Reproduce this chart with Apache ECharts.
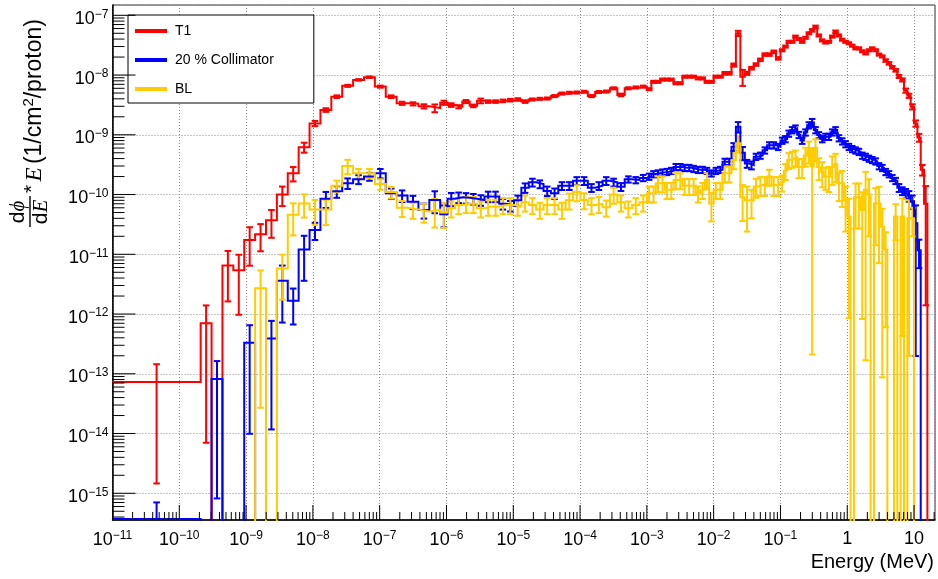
<!DOCTYPE html>
<html>
<head>
<meta charset="utf-8">
<script src="https://cdn.jsdelivr.net/npm/echarts@6/dist/echarts.min.js"></script>
<style>
html, body { margin: 0; padding: 0; background: #fff; }
#chart { width: 938px; height: 579px; }
</style>
</head>
<body>
<div id="chart"></div>
<script>
// Energy bin edges, log10(E / MeV)
const binEdgesLog = [
  -11, -9.68, -9.517, -9.354, -9.191, -9.028, -8.865, -8.702, -8.539, -8.376, -8.213, -8.05,
  -7.887, -7.724, -7.561, -7.398, -7.235, -7.072, -6.909, -6.746, -6.583, -6.42, -6.257, -6.094,
  -5.984, -5.873, -5.763, -5.652, -5.542, -5.431, -5.321, -5.21, -5.1, -4.989, -4.879, -4.768,
  -4.658, -4.547, -4.437, -4.326, -4.216, -4.105, -3.995, -3.884, -3.774, -3.663, -3.553, -3.442,
  -3.332, -3.221, -3.111, -3.0,
  -2.933, -2.867, -2.8, -2.733, -2.667, -2.6, -2.533, -2.467, -2.4, -2.333, -2.267, -2.2,
  -2.133, -2.067, -2.0, -1.933, -1.867, -1.8, -1.733, -1.667, -1.6, -1.533, -1.467, -1.4,
  -1.333, -1.267, -1.2, -1.133, -1.067, -1.0,
  -0.95, -0.9, -0.85, -0.8, -0.75, -0.7, -0.65, -0.6, -0.55, -0.5, -0.45, -0.4, -0.35, -0.3,
  -0.25, -0.2, -0.15, -0.1, -0.05, 0, 0.05, 0.1, 0.15, 0.2, 0.25, 0.3, 0.35, 0.4, 0.45, 0.5,
  0.55, 0.6, 0.65, 0.7, 0.75, 0.8, 0.85, 0.9, 0.95, 1, 1.05, 1.1, 1.15, 1.2, 1.25, 1.3
];

// E * dphi/dE per bin (1/cm^2/proton)
const t1Values = [
  7.3e-14,
  7.0e-13, 0, 6.5e-12, 5.4e-12, 1.74e-11, 2.16e-11, 3.7e-11, 1.0e-10, 2.27e-10, 6.2e-10, 1.55e-9,
  2.6e-9, 4.35e-9, 6.6e-9, 8.3e-9, 9.2e-9, 6.4e-9, 4.35e-9, 3.37e-9, 3.3e-9, 3.0e-9, 2.8e-9,
  3.45e-9, 3.15e-9, 2.95e-9, 3.6e-9, 3.05e-9, 3.7e-9, 3.6e-9, 3.6e-9, 3.7e-9, 3.8e-9, 3.9e-9, 3.6e-9,
  3.9e-9, 4.0e-9, 4.05e-9, 4.45e-9, 4.9e-9, 5.05e-9, 5.1e-9, 5.25e-9, 4.45e-9, 5.2e-9, 5.3e-9, 6.0e-9,
  4.65e-9, 6.0e-9, 6.2e-9, 6.4e-9,
  5.8e-9, 7.7e-9, 7.7e-9, 8.4e-9, 8.4e-9, 8.4e-9, 7.3e-9, 7.3e-9, 9.4e-9, 9.4e-9, 9.4e-9, 8.8e-9,
  8.8e-9, 7.7e-9, 7.7e-9, 9.4e-9, 9.4e-9, 1.07e-8, 1.07e-8, 1.47e-8, 5.0e-8, 9.4e-9, 1.07e-8, 1.3e-8,
  1.5e-8, 1.8e-8, 2.2e-8, 2.2e-8, 2.45e-8, 1.9e-8,
  2.6e-8, 3.0e-8, 3.6e-8, 3.6e-8, 4.4e-8, 4.0e-8, 3.6e-8, 4.2e-8, 5.0e-8, 5.6e-8, 6.4e-8, 4.6e-8,
  3.8e-8, 3.5e-8, 3.6e-8, 4.4e-8, 5.3e-8, 4.6e-8, 3.9e-8, 3.6e-8, 3.4e-8, 3.1e-8, 2.8e-8, 2.8e-8,
  2.5e-8, 2.3e-8, 2.6e-8, 2.8e-8, 2.6e-8, 2.2e-8, 2.05e-8, 1.75e-8, 1.57e-8, 1.35e-8, 1.2e-8, 9.5e-9,
  8.3e-9, 5.5e-9, 4.5e-9, 2.95e-9, 1.55e-9, 9e-10, 2.6e-10, 7e-11, 0, 0
];
const t1RelErr = [
  0.98,
  0.99, 0, 0.75, 0.82, 0.63, 0.48, 0.49, 0.36, 0.27, 0.19, 0.1,
  0.07, 0.05, 0.04, 0.03, 0.03, 0.04, 0.05, 0.06, 0.06, 0.08, 0.15,
  0.08, 0.07, 0.06, 0.06, 0.05, 0.09, 0.05, 0.05, 0.05, 0.05, 0.05, 0.05,
  0.04, 0.04, 0.04, 0.04, 0.04, 0.04, 0.04, 0.04, 0.04, 0.04, 0.04, 0.04,
  0.05, 0.04, 0.04, 0.04,
  0.04, 0.04, 0.04, 0.04, 0.04, 0.04, 0.04, 0.04, 0.04, 0.04, 0.04, 0.04,
  0.04, 0.04, 0.04, 0.04, 0.04, 0.05, 0.05, 0.06, 0.1, 0.3, 0.06, 0.05,
  0.05, 0.05, 0.05, 0.05, 0.05, 0.05,
  0.04, 0.04, 0.04, 0.04, 0.04, 0.04, 0.04, 0.04, 0.04, 0.05, 0.05, 0.04,
  0.04, 0.04, 0.04, 0.04, 0.05, 0.04, 0.04, 0.04, 0.04, 0.04, 0.04, 0.04,
  0.04, 0.04, 0.04, 0.04, 0.04, 0.04, 0.04, 0.05, 0.05, 0.05, 0.05, 0.06,
  0.06, 0.08, 0.08, 0.1, 0.12, 0.15, 0.2, 0.98, 0, 0
];

const collimatorValues = [
  3.7e-16,
  0, 8.2e-14, 0, 0, 3.3e-13, 0, 3.9e-13, 3.6e-12, 1.67e-12, 1.2e-11, 2.55e-11,
  8.5e-11, 1.13e-10, 1.55e-10, 1.8e-10, 2.0e-10, 2.27e-10, 1.05e-10, 9.6e-11, 7.6e-11, 5.5e-11, 8.1e-11,
  4.7e-11, 8.5e-11, 9e-11, 8.8e-11, 8.5e-11, 8.1e-11, 9.3e-11, 9.3e-11, 7e-11, 6.5e-11, 8e-11, 1.3e-10,
  1.6e-10, 1.5e-10, 1.15e-10, 1.05e-10, 1.4e-10, 1.4e-10, 1.7e-10, 1.7e-10, 1.3e-10, 1.4e-10, 1.7e-10, 1.6e-10,
  1.35e-10, 1.8e-10, 1.75e-10, 1.9e-10,
  2.0e-10, 2.2e-10, 2.27e-10, 2.35e-10, 2.4e-10, 2.5e-10, 2.9e-10, 2.9e-10, 2.8e-10, 2.8e-10, 2.7e-10, 2.6e-10,
  2.6e-10, 2.5e-10, 2.27e-10, 2.5e-10, 2.6e-10, 3.55e-10, 3.55e-10, 6.3e-10, 1.36e-9, 5e-10, 3.3e-10, 3.1e-10,
  4.3e-10, 4.5e-10, 5.5e-10, 6.7e-10, 6.7e-10, 6.3e-10,
  8e-10, 8.5e-10, 1.05e-9, 1.2e-9, 1.28e-9, 1.0e-9, 8e-10, 1.1e-9, 1.45e-9, 1.6e-9, 1.2e-9, 9.9e-10,
  8.5e-10, 9.3e-10, 9.3e-10, 1.1e-9, 1.2e-9, 8.8e-10, 7.8e-10, 7e-10, 6.3e-10, 5.8e-10, 5.5e-10, 5.2e-10,
  4.5e-10, 4.3e-10, 4.0e-10, 3.8e-10, 3.6e-10, 3.0e-10, 2.8e-10, 2.4e-10, 2.2e-10, 1.9e-10, 1.7e-10, 1.3e-10,
  1.15e-10, 1.05e-10, 9.5e-11, 7.7e-11, 3.3e-11, 1.17e-11, 0, 0, 0, 0
];
const collimatorRelErr = [
  0.9,
  0, 0.99, 0, 0, 0.97, 0, 0.97, 0.8, 0.6, 0.7, 0.32,
  0.3, 0.22, 0.2, 0.17, 0.15, 0.18, 0.2, 0.22, 0.25, 0.28, 0.4,
  0.4, 0.25, 0.2, 0.2, 0.2, 0.2, 0.2, 0.2, 0.2, 0.2, 0.2, 0.18,
  0.15, 0.15, 0.18, 0.2, 0.15, 0.15, 0.15, 0.15, 0.15, 0.15, 0.15, 0.15,
  0.15, 0.12, 0.12, 0.12,
  0.12, 0.12, 0.12, 0.12, 0.12, 0.12, 0.12, 0.12, 0.12, 0.12, 0.12, 0.12,
  0.12, 0.12, 0.12, 0.12, 0.12, 0.12, 0.12, 0.15, 0.2, 0.25, 0.15, 0.15,
  0.12, 0.12, 0.12, 0.12, 0.12, 0.12,
  0.12, 0.12, 0.12, 0.12, 0.12, 0.12, 0.12, 0.12, 0.12, 0.15, 0.12, 0.12,
  0.12, 0.12, 0.12, 0.12, 0.12, 0.12, 0.12, 0.12, 0.12, 0.12, 0.12, 0.12,
  0.12, 0.12, 0.12, 0.12, 0.12, 0.12, 0.12, 0.12, 0.12, 0.12, 0.12, 0.15,
  0.15, 0.18, 0.2, 0.25, 0.994, 0.5, 0, 0, 0, 0
];

const blValues = [
  0,
  0, 0, 0, 0, 0, 2.7e-12, 0, 5.8e-12, 4.6e-11, 7.1e-11, 5.6e-11,
  5.6e-11, 1.4e-10, 3.0e-10, 2.27e-10, 2.27e-10, 1.5e-10, 1.1e-10, 6e-11, 5.6e-11, 5.2e-11, 5.6e-11,
  5e-11, 5.9e-11, 6.7e-11, 7e-11, 7e-11, 5.9e-11, 6.3e-11, 6.3e-11, 6.7e-11, 6.7e-11, 6.3e-11, 7.4e-11,
  6.7e-11, 5.6e-11, 6.7e-11, 6.7e-11, 5.6e-11, 8e-11, 1.1e-10, 8.1e-11, 6.7e-11, 7e-11, 6.1e-11, 1e-10,
  7.4e-11, 5.9e-11, 6.7e-11, 7.4e-11,
  1.05e-10, 1.05e-10, 1.55e-10, 1.55e-10, 1.2e-10, 1.2e-10, 1.75e-10, 1.75e-10, 1.4e-10, 1.4e-10, 1.4e-10, 1.05e-10,
  1.2e-10, 1.75e-10, 7.1e-11, 1.2e-10, 1.2e-10, 2.27e-10, 2.27e-10, 3.8e-10, 7.2e-10, 9e-11, 8e-11, 8e-11,
  1.36e-10, 1.45e-10, 1.45e-10, 2.0e-10, 1.45e-10, 1.45e-10,
  1.6e-10, 2.5e-10, 3.8e-10, 4.0e-10, 4.2e-10, 2.9e-10, 2.9e-10, 4.5e-10, 5.5e-10, 3.0e-10, 6e-10, 2.9e-10,
  2.4e-10, 2.0e-10, 2.0e-10, 2.9e-10, 3.2e-10, 1.55e-10, 1.55e-10, 8e-11, 4.3e-11, 0, 9e-11, 9e-11,
  5.5e-11, 1.2e-10, 1.0e-10, 0, 7.1e-11, 7.1e-11, 2.9e-11, 1.2e-11, 0, 0, 4.3e-11, 0,
  4.3e-11, 0, 4e-11, 4e-11, 0, 0, 0, 0, 0, 0
];
const blRelErr = [
  0,
  0, 0, 0, 0, 0, 0.99, 0, 0.7, 0.55, 0.42, 0.45,
  0.45, 0.22, 0.27, 0.18, 0.18, 0.2, 0.22, 0.3, 0.3, 0.35, 0.5,
  0.45, 0.3, 0.3, 0.3, 0.3, 0.3, 0.3, 0.3, 0.3, 0.3, 0.3, 0.3,
  0.3, 0.3, 0.3, 0.3, 0.3, 0.3, 0.3, 0.3, 0.3, 0.3, 0.3, 0.3,
  0.3, 0.3, 0.3, 0.3,
  0.3, 0.3, 0.3, 0.3, 0.3, 0.3, 0.3, 0.3, 0.3, 0.3, 0.3, 0.3,
  0.3, 0.3, 0.5, 0.3, 0.3, 0.3, 0.3, 0.3, 0.3, 0.6, 0.7, 0.5,
  0.35, 0.35, 0.35, 0.3, 0.35, 0.35,
  0.3, 0.3, 0.3, 0.3, 0.3, 0.35, 0.35, 0.35, 0.4, 0.9993, 0.4, 0.4,
  0.45, 0.4, 0.45, 0.5, 0.5, 0.5, 0.6, 0.7, 0.98, 0, 0.7, 0.7,
  0.985, 0.9986, 0.8, 0, 0.8, 0.9, 0.997, 0.95, 0, 0, 0.6, 0,
  0.99, 0, 0.995, 0.5, 0, 0, 0, 0, 0, 0
];

// Axis decades and ranges
const xDecades = [-11, -10, -9, -8, -7, -6, -5, -4, -3, -2, -1, 0, 1];
const yDecades = [-15, -14, -13, -12, -11, -10, -9, -8, -7];
const xRange = [1e-11, 20.6];
const yRange = [3.57e-16, 1.487e-7];

const FONT = '"Liberation Sans", Arial, Helvetica, sans-serif';
const SERIF = '"Liberation Serif", "DejaVu Serif", serif';
const RED = '#ff0000', BLUE = '#0000ff', YELLOW = '#ffcc00';

const edges = binEdgesLog.map(function (e) { return Math.pow(10, e); });
const FLOOR = 1e-22;

// Step outline: one point per lower edge, plus the last upper edge
function stepPoints(values) {
  const pts = values.map(function (v, i) { return [edges[i], v > 0 ? v : FLOOR]; });
  pts.push([edges[edges.length - 1], pts[pts.length - 1][1]]);
  return pts;
}
// Error bars at the logarithmic bin centre
function errorPoints(values, rel) {
  const out = [];
  values.forEach(function (v, i) {
    if (v > 0 && rel[i] > 0) {
      const c = Math.sqrt(edges[i] * edges[i + 1]);
      const e = v * rel[i];
      out.push([c, v, v - e, v + e]);
    }
  });
  return out;
}

function errorRenderer(color) {
  return function (params, api) {
    const x = api.value(0), lo = api.value(2), hi = api.value(3);
    const yMin = yRange[0];
    const top = api.coord([x, hi]);
    const bot = api.coord([x, Math.max(lo, yMin)]);
    const cw = 3.3;
    const st = { stroke: color, lineWidth: 2 };
    const children = [
      { type: 'line', shape: { x1: top[0], y1: top[1], x2: bot[0], y2: bot[1] }, style: st },
      { type: 'line', shape: { x1: top[0] - cw, y1: top[1], x2: top[0] + cw, y2: top[1] }, style: st }
    ];
    if (lo > yMin) {
      children.push({ type: 'line', shape: { x1: bot[0] - cw, y1: bot[1], x2: bot[0] + cw, y2: bot[1] }, style: st });
    }
    return { type: 'group', children: children };
  };
}

// Major (decade) and minor (2..9) tick marks, drawn inward from the axes
const tickMarks = [];
xDecades.concat([xDecades[0] - 1]).forEach(function (d) {
  for (let k = 1; k <= 9; k++) {
    const v = k * Math.pow(10, d);
    if (v >= xRange[0] * 0.999 && v <= xRange[1]) tickMarks.push([v, yRange[0], 0, k === 1 ? 1 : 0]);
  }
});
yDecades.concat([yDecades[0] - 1]).forEach(function (d) {
  for (let k = 1; k <= 9; k++) {
    const v = k * Math.pow(10, d);
    if (v >= yRange[0] && v <= yRange[1]) tickMarks.push([xRange[0], v, 1, k === 1 ? 1 : 0]);
  }
});

function tickRenderer(params, api) {
  const p = api.coord([api.value(0), api.value(1)]);
  const isY = api.value(2) === 1, major = api.value(3) === 1;
  const len = isY ? (major ? 23 : 12) : (major ? 15 : 8);
  const shape = isY
    ? { x1: p[0], y1: p[1], x2: p[0] + len, y2: p[1] }
    : { x1: p[0], y1: p[1], x2: p[0], y2: p[1] - len };
  return { type: 'line', shape: shape, style: { stroke: '#000', lineWidth: 1 } };
}

function decadeLabel(v) {
  const lg = Math.log10(v);
  const e = Math.round(lg);
  if (Math.abs(lg - e) > 1e-6) return '';
  if (xDecades.indexOf(e) < 0 && yDecades.indexOf(e) < 0) return '';
  if (e === 0) return '1';
  if (e === 1) return '10';
  return '10{sup|\u2212' + Math.abs(e) + '}';
}

const labelRich = {
  sup: { fontSize: 12, fontFamily: FONT, color: '#000', verticalAlign: 'top', padding: [0, 0, 9, 0] }
};

function stepSeries(name, values, color) {
  return {
    name: name, type: 'line', step: 'end', data: stepPoints(values),
    symbol: 'none', clip: true, color: color,
    lineStyle: { color: color, width: 2, join: 'miter' },
    itemStyle: { color: color }
  };
}
function errorSeries(values, rel, color) {
  return {
    type: 'custom', data: errorPoints(values, rel), renderItem: errorRenderer(color),
    encode: { x: 0, y: 1 }, silent: true, clip: true
  };
}

const titleRich = {
  n: { fontFamily: FONT, fontSize: 23, color: '#000' },
  g: { fontFamily: SERIF, fontStyle: 'italic', fontSize: 23, color: '#000' },
  fn: { fontFamily: FONT, fontSize: 21, color: '#000' },
  fg: { fontFamily: SERIF, fontStyle: 'italic', fontSize: 21, color: '#000' },
  a: { fontFamily: FONT, fontSize: 21, color: '#000', verticalAlign: 'top', padding: [0, 0, 6, 0] },
  s: { fontFamily: FONT, fontSize: 15, color: '#000', verticalAlign: 'top', padding: [0, 0, 11, 0] }
};

const chart = echarts.init(document.getElementById('chart'));
chart.setOption({
  animation: false,
  backgroundColor: '#fff',
  grid: { left: 112.5, right: 1.3, top: 5, bottom: 59, show: true, borderColor: '#333', borderWidth: 1 },
  legend: {
    left: 128, top: 15, orient: 'vertical', selectedMode: false,
    data: ['T1', '20 % Collimator', 'BL'],
    icon: 'rect', itemWidth: 32, itemHeight: 4, itemGap: 15,
    padding: [9, 40, 7, 7],
    backgroundColor: '#fff', borderColor: '#000', borderWidth: 1,
    textStyle: { fontFamily: FONT, fontSize: 14, color: '#000', padding: [0, 0, 0, 3] }
  },
  xAxis: {
    type: 'log', logBase: 10, min: xRange[0], max: xRange[1], interval: 1,
    axisLine: { show: true, lineStyle: { color: '#000', width: 1.5 } },
    axisTick: { show: false },
    splitLine: { show: true, lineStyle: { color: '#888', width: 1, type: [1, 2] } },
    axisLabel: { formatter: decadeLabel, fontFamily: FONT, fontSize: 18, color: '#000', margin: 10, rich: labelRich },
    name: 'Energy (MeV)', nameLocation: 'end', nameGap: -1,
    nameTextStyle: { fontFamily: FONT, fontSize: 20, color: '#000', align: 'right', verticalAlign: 'top', padding: [32, 0, 0, 0] }
  },
  yAxis: {
    type: 'log', logBase: 10, min: yRange[0], max: yRange[1],
    axisLine: { show: true, lineStyle: { color: '#000', width: 1.5 } },
    axisTick: { show: false },
    splitLine: { show: true, lineStyle: { color: '#888', width: 1, type: [1, 2] } },
    axisLabel: { formatter: decadeLabel, fontFamily: FONT, fontSize: 18, color: '#000', margin: 4,
      padding: [7, 0, 0, 0], rich: labelRich }
  },
  graphic: [{
    type: 'group', x: 30, y: 227, rotation: Math.PI / 2,
    children: [
      { type: 'text', x: 15, y: -1, style: { text: '{fn|d}{fg|\u03d5}', align: 'center', verticalAlign: 'bottom', rich: titleRich } },
      { type: 'line', shape: { x1: 0, y1: 0, x2: 31, y2: 0 }, style: { stroke: '#000', lineWidth: 1.4 } },
      { type: 'text', x: 15, y: 1, style: { text: '{fn|d}{fg|E}', align: 'center', verticalAlign: 'top', rich: titleRich } },
      { type: 'text', x: 34, y: 5, style: { text: '{a|*} {g|E} {n|(1/cm}{s|2}{n|/proton)}', align: 'left', verticalAlign: 'middle', rich: titleRich } }
    ]
  }],
  series: [
    stepSeries('T1', t1Values, RED),
    errorSeries(t1Values, t1RelErr, RED),
    stepSeries('20 % Collimator', collimatorValues, BLUE),
    errorSeries(collimatorValues, collimatorRelErr, BLUE),
    stepSeries('BL', blValues, YELLOW),
    errorSeries(blValues, blRelErr, YELLOW),
    {
      type: 'custom', data: tickMarks, renderItem: tickRenderer, encode: { x: 0, y: 1 },
      silent: true, clip: false, z: 10
    }
  ]
});
</script>
</body>
</html>
